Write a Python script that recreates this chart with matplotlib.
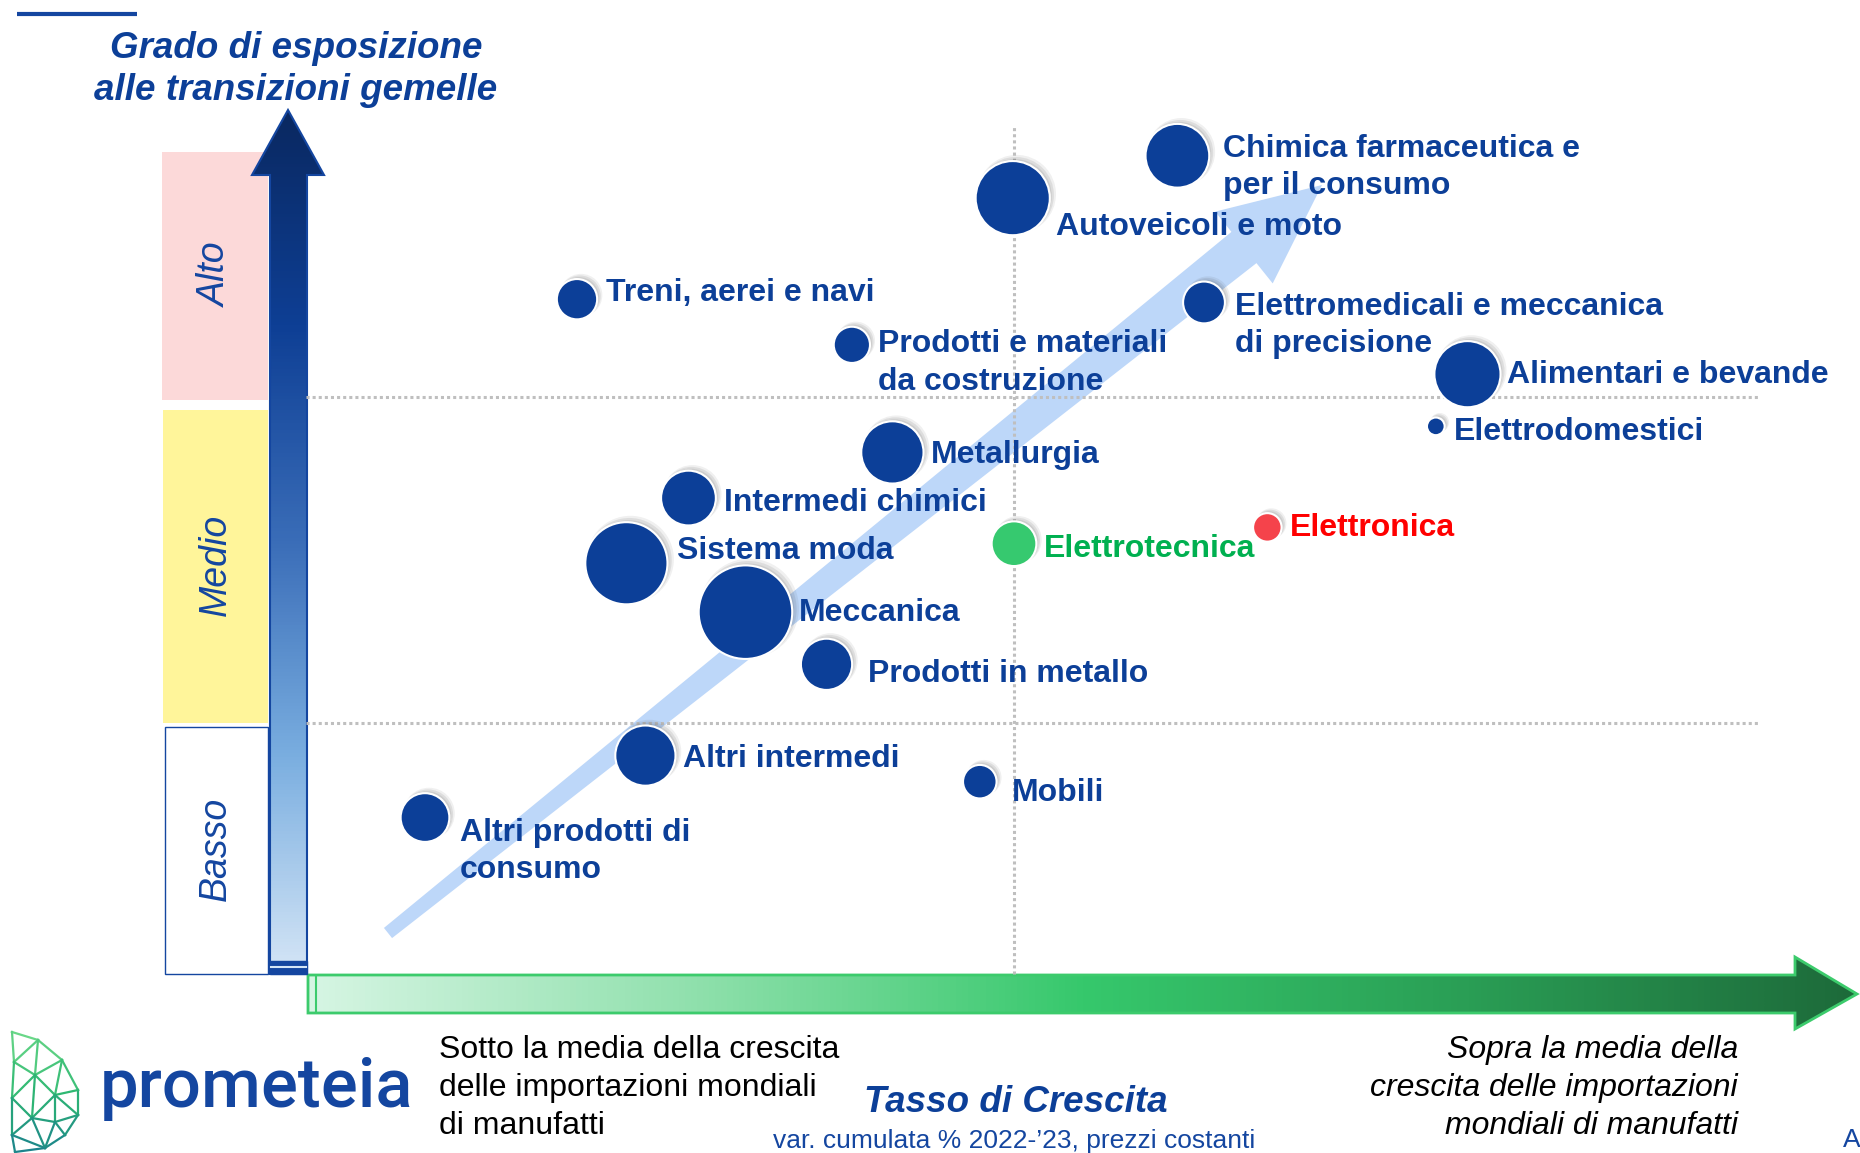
import numpy as np
import matplotlib
matplotlib.use("Agg")
import matplotlib.pyplot as plt
import matplotlib.transforms as mtransforms
from matplotlib.patches import Polygon, Rectangle
from matplotlib.colors import LinearSegmentedColormap

plt.rcParams['font.family'] = ['Liberation Sans', 'DejaVu Sans']

# settori: tasso di crescita (scarto dalla media, p.p.), grado di esposizione (0-3), peso (%)
sectors = ["Chimica farmaceutica e\nper il consumo", "Autoveicoli e moto", "Treni, aerei e navi",
           "Prodotti e materiali\nda costruzione", "Elettromedicali e meccanica\ndi precisione",
           "Alimentari e bevande", "Elettrodomestici", "Metallurgia", "Intermedi chimici",
           "Sistema moda", "Elettrotecnica", "Elettronica", "Meccanica", "Prodotti in metallo",
           "Altri intermedi", "Mobili", "Altri prodotti di\nconsumo"]
growth = [1.29, -0.01, -3.45, -1.28, 1.50, 3.58, 3.33, -0.96, -2.57,
          -3.06, 0.0, 2.00, -2.12, -1.48, -2.91, -0.27, -4.65]
exposure = [2.74, 2.61, 2.30, 2.16, 2.29, 2.07, 1.91, 1.83, 1.69,
            1.49, 1.55, 1.60, 1.34, 1.18, 0.90, 0.82, 0.71]
weight = [6.5, 8.8, 2.6, 2.1, 2.8, 7.0, 0.5, 6.2, 4.8,
          10.8, 3.2, 1.3, 14.0, 4.2, 5.8, 1.8, 3.8]
levels = ["Alto", "Medio", "Basso"]

BLUE = '#0C3F98'
NAVY = '#1446A0'
fill_col = {"Elettrotecnica": '#36C96F', "Elettronica": '#F5434B'}
text_col = {"Elettrotecnica": '#00B050', "Elettronica": '#FF0000'}
# label offsets from bubble centre, in pixels (right, down)
offsets = [(46, 12), (43, 29), (29, -6), (26, 18), (31, 23), (40, 1), (18, 6), (38, 3), (36, 5),
           (51, -12), (30, 5), (23, 1), (53, 1), (41, 10), (38, 3), (32, 11), (35, 34)]

W, H = 1860, 1153
fig = plt.figure(figsize=(W / 100, H / 100), dpi=100)
bg = fig.add_axes([0, 0, 1, 1])
bg.set_xlim(0, W)
bg.set_ylim(H, 0)
bg.set_autoscale_on(False)
bg.axis('off')


def gradient_shape(verts, colors, extent, vertical, edge=None, lw=0, z=2):
    poly = Polygon(verts, closed=True, facecolor='none', edgecolor=edge or 'none', lw=lw, zorder=z + 0.1)
    bg.add_patch(poly)
    cmap = LinearSegmentedColormap.from_list('g', colors)
    g = np.linspace(0, 1, 256)
    img = g.reshape(-1, 1) if vertical else g.reshape(1, -1)
    im = bg.imshow(img, cmap=cmap, extent=extent, aspect='auto', origin='upper', zorder=z, interpolation='bilinear')
    im.set_clip_path(poly)
    return poly


# level boxes
bg.add_patch(Rectangle((162, 152), 106, 248, color='#FCD9D9', lw=0))
bg.add_patch(Rectangle((163, 410), 105, 313, color='#FFF59A', lw=0))
bg.add_patch(Rectangle((165, 727), 103, 247, facecolor='white', edgecolor=NAVY, lw=1))
for lab, yc in zip(levels, [275, 565, 849]):
    bg.text(216, yc, lab, rotation=90, ha='center', va='center', fontsize=27,
            style='italic', color=NAVY)

# vertical gradient arrow
vverts = [(270, 974), (270, 175), (252, 175), (288, 110), (324, 175), (307, 175), (307, 974)]
gradient_shape(vverts, ['#0A2860', '#0E3F95', '#3A6DB8', '#7AAEE0', '#D4E5F6'],
               (250, 326, 974, 108), True, edge=NAVY, lw=1.5)
bg.add_patch(Rectangle((270, 961), 37, 13, color=NAVY, zorder=3))
bg.plot([271, 306], [967, 967], color='#D4E5F6', lw=1.5, zorder=3.1)

# horizontal gradient arrow
hverts = [(308, 975), (1795, 975), (1795, 957), (1857, 994), (1795, 1029), (1795, 1013), (308, 1013)]
gradient_shape(hverts, ['#D6F5E3', '#8FE0AC', '#36C86C', '#2A9E55', '#1D6A3A'],
               (308, 1857, 1029, 957), False, edge='#3CCB6C', lw=2)
bg.plot([316, 316], [977, 1011], color='#3CCB6C', lw=1.5, zorder=3)

# diagonal trend arrow
tail = np.array([388.0, 933.0])
tip = np.array([1322.0, 185.0])
u = (tip - tail) / np.linalg.norm(tip - tail)
n = np.array([-u[1], u[0]])
base = tip - 100 * u
dverts = [tail - 6.5 * n, base - 20 * n, base - 46 * n, tip, base + 46 * n, base + 20 * n, tail + 6.5 * n]
bg.add_patch(Polygon(dverts, closed=True, color='#BDD7F9', lw=0, zorder=4))

# top rule + title
bg.plot([17, 137], [14, 14], color=NAVY, lw=3, solid_capstyle='butt')
bg.text(296, 48, "Grado di esposizione", ha='center', va='center', fontsize=26.5,
        fontweight='bold', style='italic', color=BLUE)
bg.text(296, 91, "alle transizioni gemelle", ha='center', va='center', fontsize=26.5,
        fontweight='bold', style='italic', color=BLUE)

# bottom texts
bg.text(100, 1088, "prometeia", ha='left', va='center', fontsize=49.5, color=NAVY,
        family=['Roboto', 'Liberation Sans'], fontweight='medium')
bg.text(439, 1088, "Sotto la media della crescita\ndelle importazioni mondiali\ndi manufatti",
        ha='left', va='center', fontsize=23, color='black', linespacing=1.34)
bg.text(1738, 1088, "Sopra la media della\ncrescita delle importazioni\nmondiali di manufatti",
        ha='right', va='center', fontsize=23, color='black', style='italic', linespacing=1.34)
bg.text(1016, 1102, "Tasso di Crescita", ha='center', va='center', fontsize=26.5,
        fontweight='bold', style='italic', color=BLUE)
bg.text(1014, 1141, "var. cumulata % 2022-\u201923, prezzi costanti", ha='center', va='center',
        fontsize=19, color=NAVY)
bg.text(1843, 1140, "A", ha='left', va='center', fontsize=19, color=NAVY)

# logo mesh
pts = {'a': (12, 1032), 'b': (38, 1040), 'c': (62, 1060), 'd': (78, 1090), 'e': (78, 1115),
       'f': (65, 1135), 'g': (45, 1148), 'h': (15, 1152), 'i': (14, 1062), 'j': (35, 1075),
       'k': (12, 1098), 'l': (55, 1095), 'm': (32, 1118), 'n': (12, 1135), 'o': (55, 1122)}
edges = ['ab', 'bc', 'cd', 'de', 'ef', 'fg', 'gh', 'ai', 'ib', 'bj', 'ij', 'jc', 'jl', 'cl', 'ld',
         'le', 'ik', 'jk', 'km', 'jm', 'lm', 'lo', 'eo', 'mo', 'of', 'og', 'mg', 'mn', 'kn', 'nh', 'ng']
lcmap = LinearSegmentedColormap.from_list('logo', ['#6FDA8A', '#2EB872', '#1A7F8E'])
for e in edges:
    p, q = pts[e[0]], pts[e[1]]
    c = lcmap(((p[1] + q[1]) / 2 - 1030) / 125)
    bg.plot([p[0], q[0]], [p[1], q[1]], color=c, lw=1.6, zorder=2)

# data axes
ax = fig.add_axes([254 / W, 1 - 1049 / H, 1520 / W, 978 / H])
ax.set_xlim(-6, 6)
ax.set_ylim(0, 3)
ax.axis('off')
ax.patch.set_alpha(0)

dot = dict(color='#BFBFBF', lw=2.2, ls=(0, (1, 1)), zorder=2)
ax.plot([0, 0], [0.23, 2.83], **dot)
ax.plot([-5.59, 5.88], [1, 1], **dot)
ax.plot([-5.59, 5.88], [2, 2], **dot)

sizes = 324 * np.array(weight)
fills = [fill_col.get(s, BLUE) for s in sectors]
for k, (dx, dy, a) in enumerate([(2, 2, 0.10), (3, 3, 0.10), (4, 4, 0.08)]):
    tr = mtransforms.offset_copy(ax.transData, fig=fig, x=dx, y=dy, units='dots')
    ax.scatter(growth, exposure, s=sizes * (1 + 0.06 * k), color='#404040', alpha=a,
               lw=0, transform=tr, zorder=5)
ax.scatter(growth, exposure, s=sizes, c=fills, edgecolors='white', linewidths=1.5, zorder=6)

for name, x, y, (dx, dy) in zip(sectors, growth, exposure, offsets):
    ax.annotate(name, (x, y), xytext=(dx, -dy), textcoords='offset pixels', ha='left',
                va='center', fontsize=23, fontweight='bold', color=text_col.get(name, BLUE),
                linespacing=1.32, zorder=7)

fig.savefig("out.png", dpi=100)
